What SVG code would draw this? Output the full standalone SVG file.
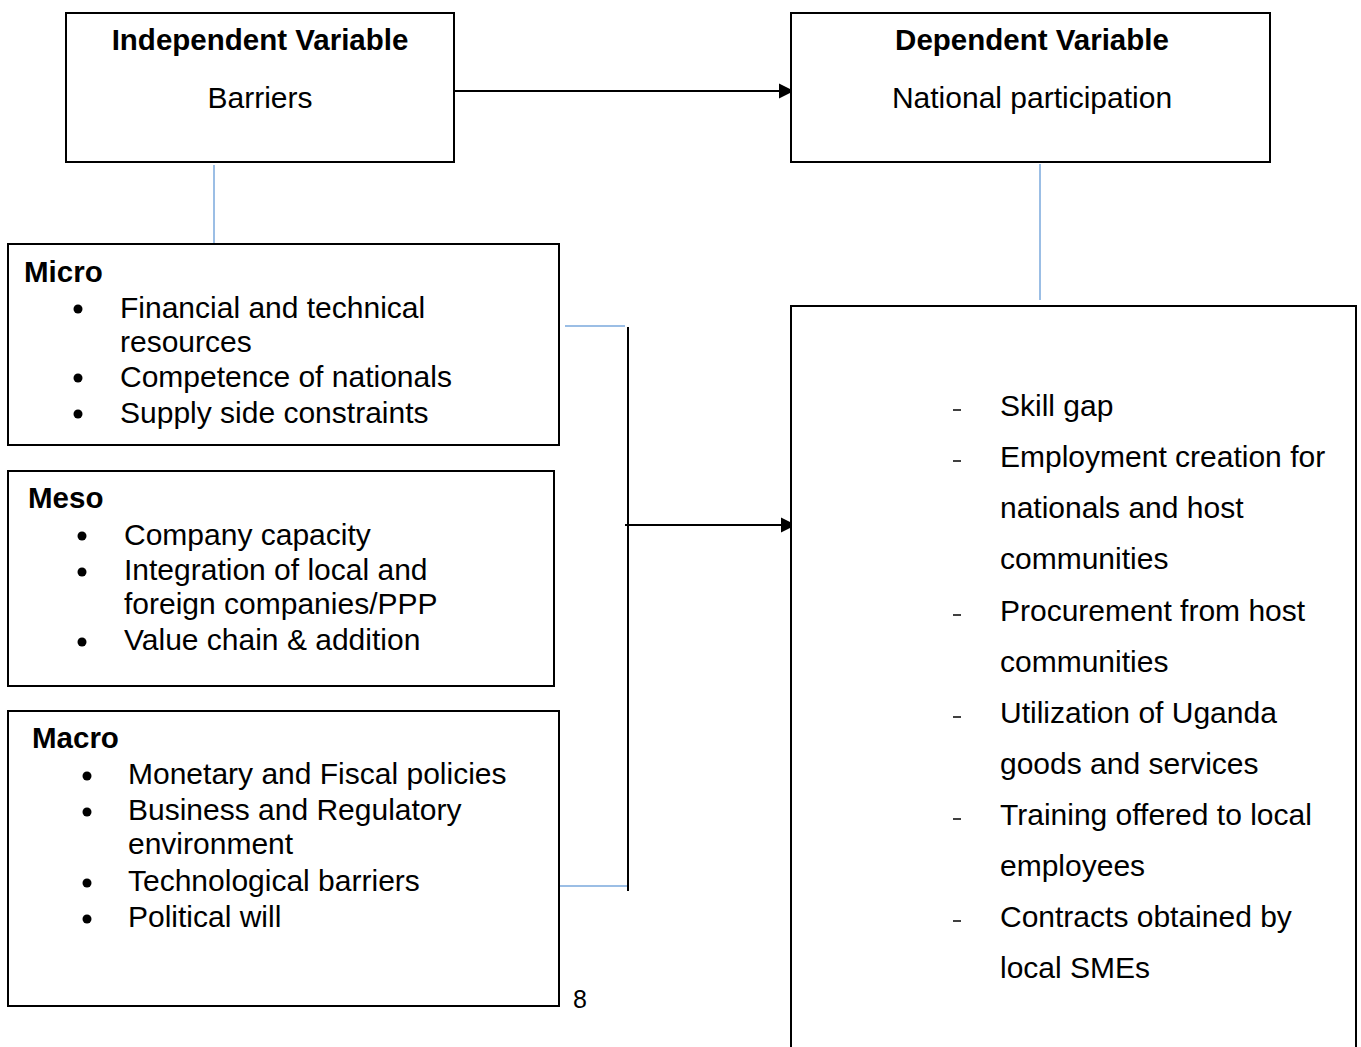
<svg xmlns="http://www.w3.org/2000/svg" width="1361" height="1047" viewBox="0 0 1361 1047">
<style>
.box{fill:#fff;stroke:#000;stroke-width:2}
text{font-family:"Liberation Sans",Arial,sans-serif;font-size:30px;fill:#000}
.b{font-weight:bold;font-size:29.5px}
.c{text-anchor:middle}
.blue{stroke:#7aa9dc;stroke-width:1.5;fill:none}
.blk{stroke:#000;stroke-width:2;fill:none}
</style>
<defs>
<marker id="ah2" viewBox="0 0 10 10" refX="10" refY="5" markerWidth="15" markerHeight="16" markerUnits="userSpaceOnUse" orient="auto"><path d="M0,0 L10,5 L0,10 z" fill="#000"/></marker>
</defs>
<g id="connectors">
<line class="blk" x1="455" y1="91" x2="794" y2="91" marker-end="url(#ah2)"/>
<line class="blue" x1="214" y1="165" x2="214" y2="243"/>
<line class="blue" x1="1040" y1="164" x2="1040" y2="300"/>
<line class="blue" x1="565" y1="326" x2="625" y2="326"/>
<line class="blue" x1="554" y1="886" x2="627" y2="886"/>
<line class="blk" x1="628" y1="327" x2="628" y2="891"/>
<line class="blk" x1="625" y1="525" x2="796" y2="525" marker-end="url(#ah2)"/>
</g>
<g id="independent">
<rect class="box" x="66" y="13" width="388" height="149"/>
<text class="b c" x="260" y="50">Independent Variable</text>
<text class="c" x="260" y="108">Barriers</text>
</g>
<g id="dependent">
<rect class="box" x="791" y="13" width="479" height="149"/>
<text class="b c" x="1032" y="50">Dependent Variable</text>
<text class="c" x="1032" y="108">National participation</text>
</g>
<g id="micro">
<rect class="box" x="8" y="244" width="551" height="201"/>
<text class="b" x="24" y="282">Micro</text>
<circle cx="78" cy="309" r="4.5"/><text x="120" y="318">Financial and technical</text>
<text x="120" y="352">resources</text>
<circle cx="78" cy="378" r="4.5"/><text x="120" y="387">Competence of nationals</text>
<circle cx="78" cy="414" r="4.5"/><text x="120" y="423">Supply side constraints</text>
</g>
<g id="meso">
<rect class="box" x="8" y="471" width="546" height="215"/>
<text class="b" x="28" y="508">Meso</text>
<circle cx="82" cy="536" r="4.5"/><text x="124" y="545">Company capacity</text>
<circle cx="82" cy="572" r="4.5"/><text x="124" y="580">Integration of local and</text>
<text x="124" y="614">foreign companies/PPP</text>
<circle cx="82" cy="642" r="4.5"/><text x="124" y="650">Value chain &amp; addition</text>
</g>
<g id="macro">
<rect class="box" x="8" y="711" width="551" height="295"/>
<text class="b" x="32" y="748">Macro</text>
<circle cx="87" cy="776" r="4.5"/><text x="128" y="784">Monetary and Fiscal policies</text>
<circle cx="87" cy="812" r="4.5"/><text x="128" y="820">Business and Regulatory</text>
<text x="128" y="854">environment</text>
<circle cx="87" cy="883" r="4.5"/><text x="128" y="891">Technological barriers</text>
<circle cx="87" cy="919" r="4.5"/><text x="128" y="927">Political will</text>
</g>
<text x="573" y="1008" style="font-size:25px">8</text>
<g id="outcomes">
<rect class="box" x="791" y="306" width="565" height="760"/>
<g stroke="#000" stroke-width="1.5">
<line x1="953" y1="410" x2="961" y2="410"/>
<line x1="953" y1="461" x2="961" y2="461"/>
<line x1="953" y1="615" x2="961" y2="615"/>
<line x1="953" y1="717" x2="961" y2="717"/>
<line x1="953" y1="819" x2="961" y2="819"/>
<line x1="953" y1="921" x2="961" y2="921"/>
</g>
<text x="1000" y="416">Skill gap</text>
<text x="1000" y="467">Employment creation for</text>
<text x="1000" y="518">nationals and host</text>
<text x="1000" y="569">communities</text>
<text x="1000" y="621">Procurement from host</text>
<text x="1000" y="672">communities</text>
<text x="1000" y="723">Utilization of Uganda</text>
<text x="1000" y="774">goods and services</text>
<text x="1000" y="825">Training offered to local</text>
<text x="1000" y="876">employees</text>
<text x="1000" y="927">Contracts obtained by</text>
<text x="1000" y="978">local SMEs</text>
</g>
</svg>
